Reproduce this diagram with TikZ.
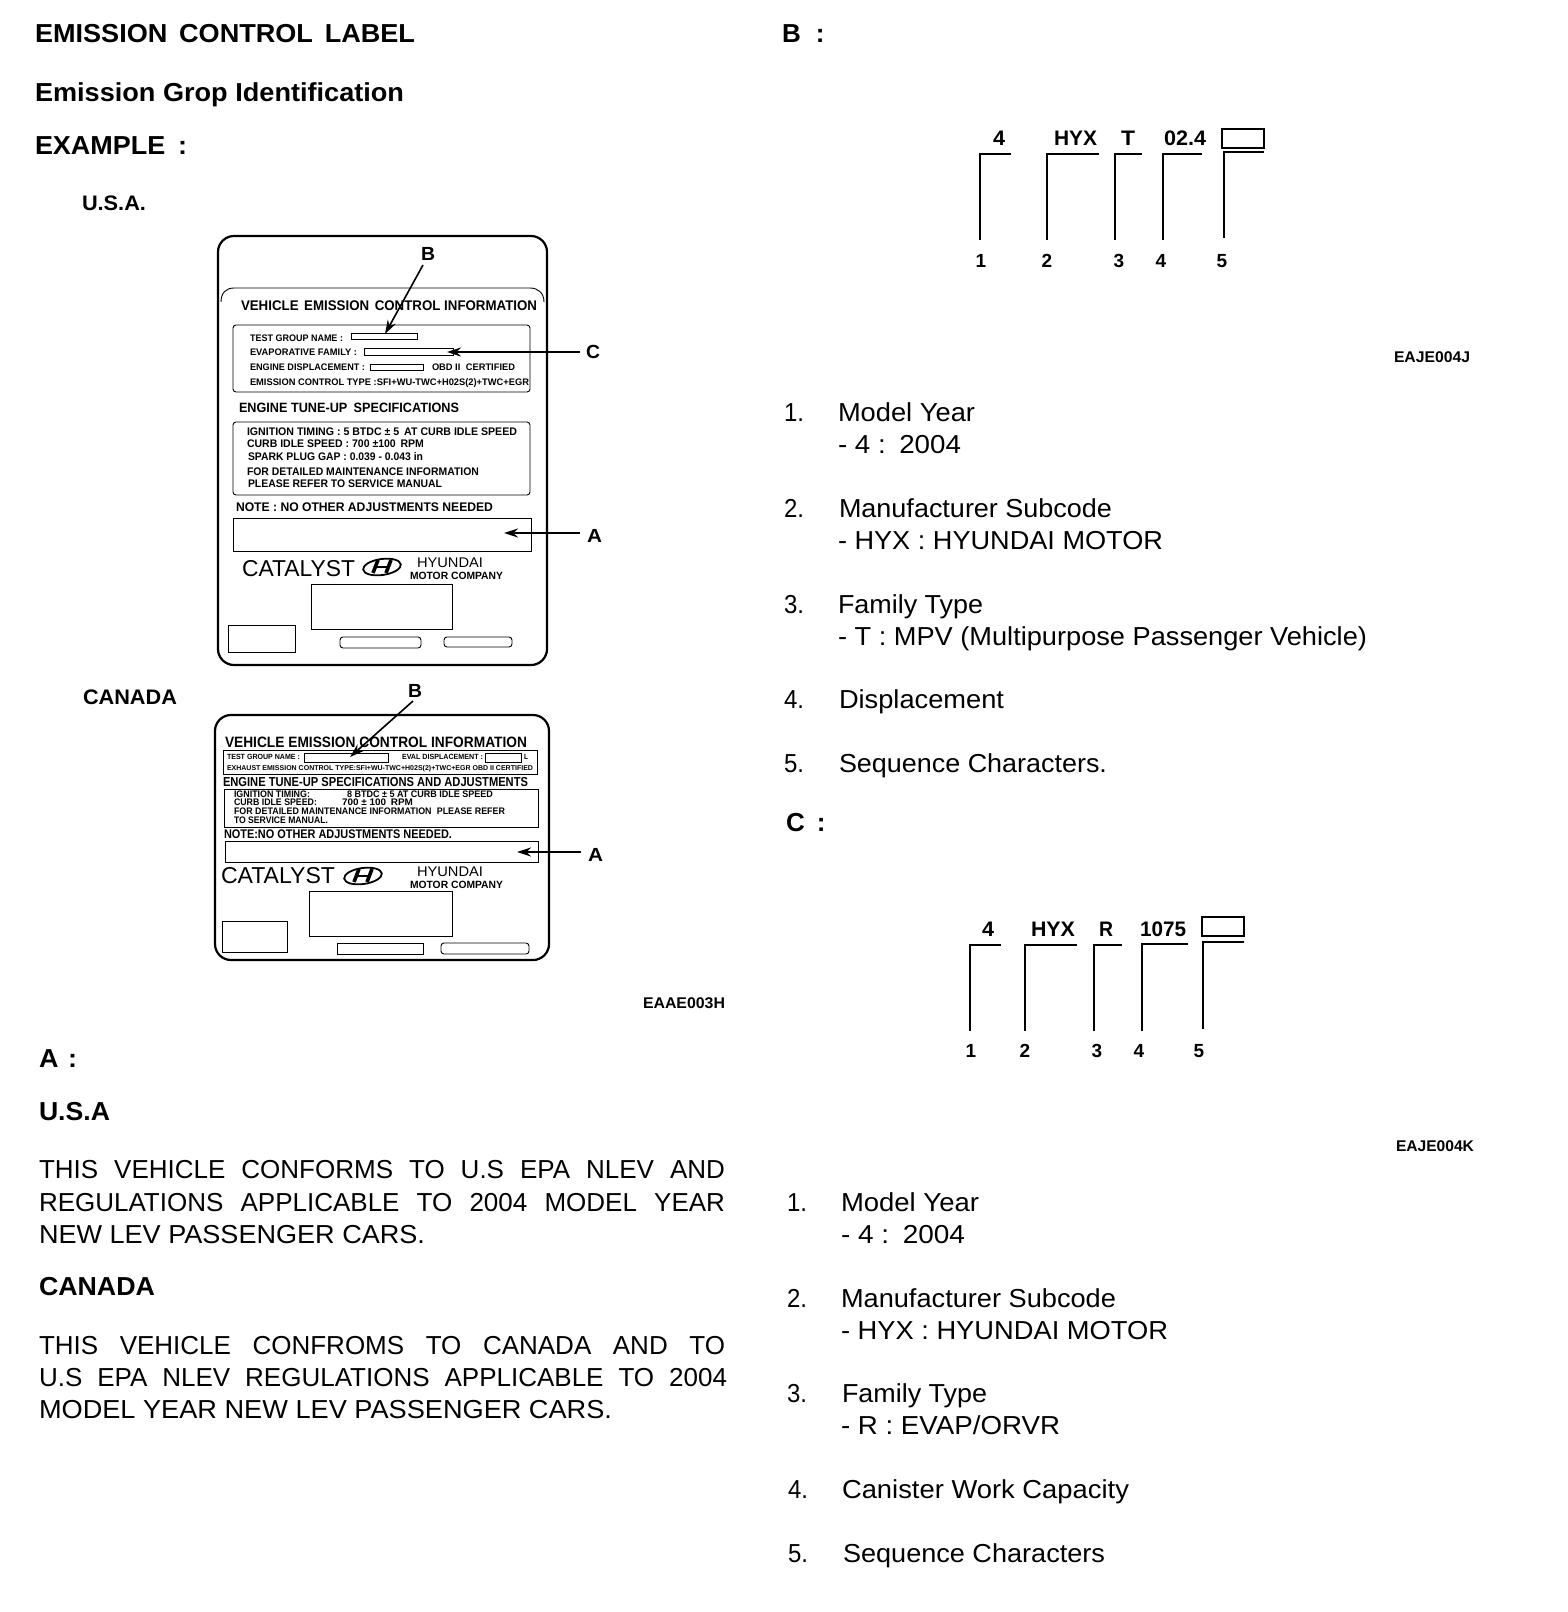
\documentclass[tikz,border=0pt]{standalone}
\usepackage{graphicx}
\usepackage{fontspec}
\setmainfont{Liberation Sans}
\usetikzlibrary{arrows.meta,shapes.geometric}
\tikzset{
  txt/.style={inner sep=0pt,outer sep=0pt,anchor=base west,text=black},
  num/.style={inner sep=0pt,outer sep=0pt,anchor=base,text=black,font=\fontsize{19}{19}\selectfont\bfseries},
  outerbox/.style={draw=black,line width=2.2pt,rounded corners=16pt},
  innerbox/.style={draw=black,line width=0.9pt,rounded corners=3pt},
  plainbox/.style={draw=black,line width=0.9pt},
  fieldbox/.style={draw=black,line width=0.8pt},
  brk/.style={draw=black,line width=1.5pt},
  pointer/.style={draw=black,line width=1.6pt,-{Stealth[length=14pt,width=9pt]}},
  logo/.style={draw=black,line width=1.8pt},
}
\newcommand{\tx}[6]{\node[txt] (#1) at (#2,#3) {\fontsize{#4}{#4}\selectfont\resizebox{#5pt}{\height}{#6}};}
\newcommand{\jt}[6]{\node[txt] (#1) at (#2,#3) {\fontsize{#4}{#4}\selectfont\makebox[#5pt][s]{#6}};}
\newcommand{\brkt}[5]{\coordinate (#1b) at (#2,#5);\coordinate (#1c) at (#2,#4);\coordinate (#1r) at (#3,#4);\draw[brk] (#1b) -- (#1c) -- (#1r);}
\newcommand{\hlogo}[3]{\node[logo,ellipse,minimum width=38pt,minimum height=16pt,inner sep=0pt,rotate=8] (#1) at (#2,#3) {};
  \draw[logo,line width=3.6pt] ([shift={(-4,-7)}]#1.center) -- ([shift={(-9,6)}]#1.center);
  \draw[logo,line width=3.6pt] ([shift={(9,-7)}]#1.center) -- ([shift={(4,6)}]#1.center);
  \draw[logo,line width=2.6pt] ([shift={(-6,0)}]#1.center) -- ([shift={(6,0)}]#1.center);}
\begin{document}
\begin{tikzpicture}[x=1pt,y=-1pt]
\useasboundingbox (0,0) rectangle (1568,1612);
\fill[white] (0,0) rectangle (1568,1612);
% headings left
\tx{h1}{35}{42}{26}{380}{\bfseries EMISSION\hspace{4pt} CONTROL\hspace{4pt} LABEL}
\tx{h2}{35}{101}{26}{369}{\bfseries Emission Grop Identification}
\tx{h3}{35}{154}{26}{152}{\bfseries EXAMPLE\hspace{5pt} :}
\tx{usa}{82}{210}{21}{64}{\bfseries U.S.A.}
\tx{can}{83}{704}{21}{94}{\bfseries CANADA}
\tx{eaae}{643}{1008}{15.5}{82}{\bfseries EAAE003H}
% USA label
\draw[outerbox] (218,236) rectangle (547,665);
\draw[draw=black,line width=0.9pt] (221,302) .. controls (221,293) and (226,288) .. (234,288) -- (530,288) .. controls (538,288) and (544,293) .. (544,302);
\draw[innerbox] (233,325) rectangle (530,392);
\draw[innerbox] (233,422) rectangle (530,495);
\draw[plainbox] (233,518) rectangle (531,551);
\draw[plainbox] (311,584) rectangle (452,629);
\draw[plainbox] (228,625) rectangle (295,652);
\draw[innerbox] (340,637) rectangle (421,648);
\draw[innerbox] (444,637) rectangle (512,647);
\tx{u1}{241}{310}{14}{296}{\bfseries VEHICLE\hspace{2pt} EMISSION\hspace{2pt} CONTROL INFORMATION}
\tx{u2}{250}{341}{9.5}{93}{\bfseries TEST GROUP NAME :}
\node[fieldbox,minimum width=66pt,minimum height=6pt,inner sep=0pt] (ufa) at (384,336) {};
\tx{u3}{250}{355}{9.5}{107}{\bfseries EVAPORATIVE FAMILY :}
\node[fieldbox,minimum width=89pt,minimum height=7pt,inner sep=0pt] (ufb) at (408.5,351.5) {};
\tx{u4}{250}{370}{9.5}{115}{\bfseries ENGINE DISPLACEMENT :}
\node[fieldbox,minimum width=53pt,minimum height=6pt,inner sep=0pt] (ufc) at (396.5,367) {};
\tx{u5}{432}{370}{9.5}{83}{\bfseries OBD II\hspace{3pt} CERTIFIED}
\tx{u6}{250}{385}{9.5}{279}{\bfseries EMISSION CONTROL TYPE :SFI+WU-TWC+H02S(2)+TWC+EGR}
\tx{u7}{239}{412}{13.5}{220}{\bfseries ENGINE TUNE-UP\hspace{3pt} SPECIFICATIONS}
\tx{u8}{247}{435}{11}{270}{\bfseries IGNITION TIMING : 5 BTDC ± 5\hspace{2pt} AT CURB IDLE SPEED}
\tx{u9}{247}{447}{11}{177}{\bfseries CURB IDLE SPEED : 700 ±100\hspace{2pt} RPM}
\tx{u10}{248}{460}{11}{175}{\bfseries SPARK PLUG GAP : 0.039 - 0.043 in}
\tx{u11}{247}{475}{11}{232}{\bfseries FOR DETAILED MAINTENANCE INFORMATION}
\tx{u12}{248}{487}{11}{194}{\bfseries PLEASE REFER TO SERVICE MANUAL}
\tx{u13}{236}{511}{12.5}{257}{\bfseries NOTE : NO OTHER ADJUSTMENTS NEEDED}
\tx{u14}{242}{576}{23}{113}{CATALYST}
\hlogo{ulogo}{382}{567}
\tx{u15}{417}{567}{14}{66}{HYUNDAI}
\tx{u16}{410}{579}{10.5}{93}{\bfseries MOTOR COMPANY}
\tx{ub}{421}{260}{19}{14}{\bfseries B}
\tx{uc}{586}{358}{19}{14}{\bfseries C}
\tx{ua}{587}{542}{19}{15}{\bfseries A}
\coordinate (ubs) at (423,265); \coordinate (ubt) at (385,334);
\coordinate (ucs) at (580,352); \coordinate (uct) at (447,352);
\coordinate (uas) at (580,533); \coordinate (uat) at (504,533);
\draw[pointer] (ubs) -- (ubt);
\draw[pointer] (ucs) -- (uct);
\draw[pointer] (uas) -- (uat);
% Canada label
\draw[outerbox] (215,715) rectangle (549,960);
\draw[plainbox] (223,750) rectangle (537,774);
\draw[plainbox] (224,789) rectangle (538,827);
\draw[plainbox] (225,841) rectangle (538,862);
\draw[plainbox] (309,891) rectangle (452,936);
\draw[plainbox] (222,921) rectangle (287,952);
\draw[plainbox] (337,943) rectangle (423,954);
\draw[innerbox] (441,943) rectangle (529,954);
\tx{c1}{225}{747}{15}{302}{\bfseries VEHICLE EMISSION CONTROL INFORMATION}
\tx{c2}{227}{759}{7.5}{73}{\bfseries TEST GROUP NAME :}
\node[fieldbox,minimum width=84pt,minimum height=9pt,inner sep=0pt] (cfa) at (346,757.5) {};
\tx{c3}{402}{759}{7.5}{81}{\bfseries EVAL DISPLACEMENT :}
\node[fieldbox,minimum width=36pt,minimum height=9pt,inner sep=0pt] (cfb) at (503,757.5) {};
\tx{c4}{524}{759}{7.5}{4}{\bfseries L}
\tx{c5}{227}{770}{7}{306}{\bfseries EXHAUST EMISSION CONTROL TYPE:SFI+WU-TWC+H02S(2)+TWC+EGR OBD II CERTIFIED}
\tx{c6}{223}{786}{13}{305}{\bfseries ENGINE TUNE-UP SPECIFICATIONS AND ADJUSTMENTS}
\tx{c7}{234}{797}{9.5}{76}{\bfseries IGNITION TIMING:}
\tx{c8}{347}{797}{9.5}{146}{\bfseries 8 BTDC ± 5 AT CURB IDLE SPEED}
\tx{c9}{234}{805}{9.5}{83}{\bfseries CURB IDLE SPEED:}
\tx{c10}{342}{805}{9.5}{71}{\bfseries 700 ± 100\hspace{2pt} RPM}
\tx{c11}{234}{814}{9.5}{271}{\bfseries FOR DETAILED MAINTENANCE INFORMATION\hspace{3pt} PLEASE REFER}
\tx{c12}{234}{823}{9.5}{94}{\bfseries TO SERVICE MANUAL.}
\tx{c13}{224}{838}{12.5}{228}{\bfseries NOTE:NO OTHER ADJUSTMENTS NEEDED.}
\tx{c14}{221}{883}{23}{114}{CATALYST}
\hlogo{clogo}{363}{876}
\tx{c15}{417}{876}{14}{66}{HYUNDAI}
\tx{c16}{410}{888}{10.5}{93}{\bfseries MOTOR COMPANY}
\tx{cb}{408}{697}{19}{14}{\bfseries B}
\tx{ca}{588}{861}{19}{15}{\bfseries A}
\coordinate (cbs) at (413,701); \coordinate (cbt) at (350,757);
\coordinate (cas) at (581,852); \coordinate (cat) at (517,852);
\draw[pointer] (cbs) -- (cbt);
\draw[pointer] (cas) -- (cat);
% A section
\tx{a1}{39}{1067}{26}{38}{\bfseries A\hspace{2pt} :}
\tx{a2}{39}{1120}{26}{71}{\bfseries U.S.A}
\jt{a3}{39}{1178}{26}{686}{THIS VEHICLE CONFORMS TO U.S EPA NLEV AND}
\jt{a4}{39}{1211}{26}{686}{REGULATIONS APPLICABLE TO 2004 MODEL YEAR}
\tx{a5}{39}{1243}{26}{386}{NEW LEV PASSENGER CARS.}
\tx{a6}{39}{1295}{26}{116}{\bfseries CANADA}
\jt{a7}{39}{1354}{26}{686}{THIS VEHICLE CONFROMS TO CANADA AND TO}
\jt{a8}{39}{1386}{26}{688}{U.S EPA NLEV REGULATIONS APPLICABLE TO 2004}
\tx{a9}{39}{1418}{26}{573}{MODEL YEAR NEW LEV PASSENGER CARS.}
% B section
\node[txt,font=\fontsize{26}{26}\selectfont\bfseries] (b0) at (782,42) {B\hspace{15pt}:};
\tx{bt1}{993}{145}{21}{12}{\bfseries 4}
\tx{bt2}{1054}{145}{21}{43}{\bfseries HYX}
\tx{bt3}{1121}{145}{21}{14}{\bfseries T}
\tx{bt4}{1164}{145}{21}{42}{\bfseries 02.4}
\node[draw=black,line width=1.8pt,minimum width=42pt,minimum height=19pt,inner sep=0pt] (bbox) at (1243,138.5) {};
\brkt{ba}{980}{1011}{154}{240}
\brkt{bb}{1047}{1099}{154}{240}
\brkt{bc}{1115}{1142}{154}{240}
\brkt{bd}{1163}{1202}{154}{240}
\brkt{be}{1224}{1264}{152}{238}
\node[num] (bn1) at (981,267) {1};
\node[num] (bn2) at (1047,267) {2};
\node[num] (bn3) at (1119,267) {3};
\node[num] (bn4) at (1161,267) {4};
\node[num] (bn5) at (1222,267) {5};
\tx{bcode}{1394}{362}{15.5}{76}{\bfseries EAJE004J}
\tx{bl1n}{784}{421}{26}{20}{1.}
\tx{bl1}{838}{421}{26}{137}{Model Year}
\tx{bl1a}{838}{453}{26}{123}{- 4 :\hspace{3pt} 2004}
\tx{bl2n}{784}{517}{26}{20}{2.}
\tx{bl2}{839}{517}{26}{273}{Manufacturer Subcode}
\tx{bl2a}{838}{549}{26}{325}{- HYX : HYUNDAI MOTOR}
\tx{bl3n}{784}{613}{26}{20}{3.}
\tx{bl3}{838}{613}{26}{145}{Family Type}
\tx{bl3a}{838}{645}{26}{529}{- T : MPV (Multipurpose Passenger Vehicle)}
\tx{bl4n}{784}{708}{26}{20}{4.}
\tx{bl4}{839}{708}{26}{165}{Displacement}
\tx{bl5n}{784}{772}{26}{20}{5.}
\tx{bl5}{839}{772}{26}{268}{Sequence Characters.}
% C section
\node[txt,font=\fontsize{26}{26}\selectfont\bfseries] (c0) at (786,831) {C\hspace{12pt}:};
\tx{ct1}{982}{936}{21}{12}{\bfseries 4}
\tx{ct2}{1031}{936}{21}{44}{\bfseries HYX}
\tx{ct3}{1099}{936}{21}{14}{\bfseries R}
\tx{ct4}{1140}{936}{21}{46}{\bfseries 1075}
\node[draw=black,line width=1.8pt,minimum width=42pt,minimum height=19pt,inner sep=0pt] (cbox) at (1223,926.5) {};
\brkt{ca1}{970}{1001}{945}{1031}
\brkt{cb1}{1025}{1077}{945}{1031}
\brkt{cc1}{1094}{1122}{945}{1031}
\brkt{cd1}{1142}{1188}{944}{1031}
\brkt{ce1}{1203}{1244}{942}{1029}
\node[num] (cn1) at (971,1057) {1};
\node[num] (cn2) at (1025,1057) {2};
\node[num] (cn3) at (1097,1057) {3};
\node[num] (cn4) at (1139,1057) {4};
\node[num] (cn5) at (1199,1057) {5};
\tx{ccode}{1396}{1151}{15.5}{78}{\bfseries EAJE004K}
\tx{cl1n}{787}{1211}{26}{20}{1.}
\tx{cl1}{841}{1211}{26}{138}{Model Year}
\tx{cl1a}{841}{1243}{26}{124}{- 4 :\hspace{3pt} 2004}
\tx{cl2n}{787}{1307}{26}{20}{2.}
\tx{cl2}{841}{1307}{26}{275}{Manufacturer Subcode}
\tx{cl2a}{841}{1339}{26}{327}{- HYX : HYUNDAI MOTOR}
\tx{cl3n}{787}{1402}{26}{20}{3.}
\tx{cl3}{842}{1402}{26}{145}{Family Type}
\tx{cl3a}{841}{1434}{26}{219}{- R : EVAP/ORVR}
\tx{cl4n}{788}{1498}{26}{20}{4.}
\tx{cl4}{842}{1498}{26}{287}{Canister Work Capacity}
\tx{cl5n}{788}{1562}{26}{20}{5.}
\tx{cl5}{843}{1562}{26}{262}{Sequence Characters}
\end{tikzpicture}
\end{document}
